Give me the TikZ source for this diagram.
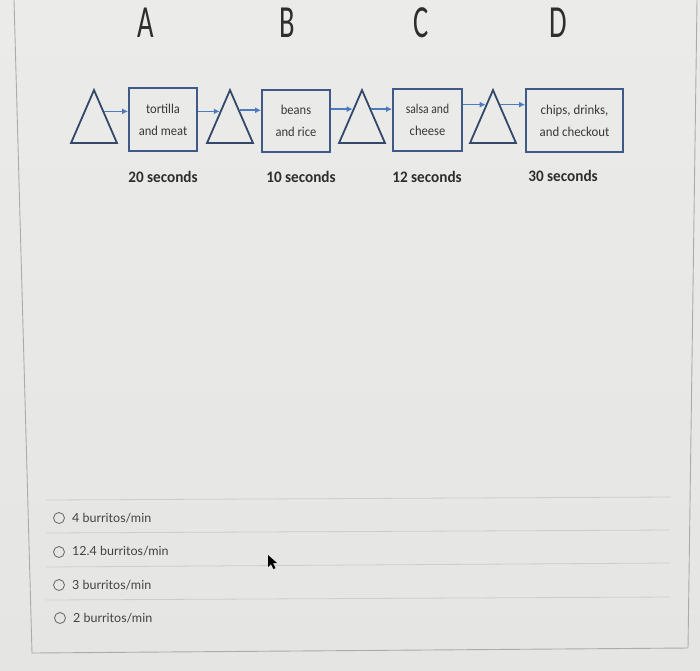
\documentclass[tikz,border=0pt]{standalone}
\usepackage{fontspec}
\setmainfont{Carlito}
\newfontfamily\latofont{Lato}
\usetikzlibrary{shapes.geometric,arrows.meta,calc}
\definecolor{bg}{HTML}{E5E5E3}
\definecolor{bgtop}{HTML}{EBEBE9}
\definecolor{framec}{HTML}{ABABA9}
\definecolor{rulec}{HTML}{CDCDCB}
\definecolor{edgec}{HTML}{34486A}
\definecolor{boxc}{HTML}{3F5A86}
\definecolor{arrc}{HTML}{4C7BC0}
\definecolor{inkc}{HTML}{2E2E2E}
\definecolor{txtc}{HTML}{383838}
\tikzset{
  tri/.style={isosceles triangle, isosceles triangle stretches, shape border rotate=90,
    minimum width=46pt, minimum height=53pt, inner sep=0pt, draw=edgec, line width=1.8pt},
  stepbox/.style={rectangle, draw=boxc, line width=1.8pt, inner sep=0pt, align=center,
    font=\fontsize{13.5}{22}\selectfont, text=txtc},
  arr/.style={draw=arrc, line width=1.6pt, -{Latex[length=6pt,width=6pt]}},
  letter/.style={text=inkc, inner sep=0pt},
  secs/.style={font=\bfseries\fontsize{16}{18}\selectfont, text=inkc, inner sep=0pt},
  opt/.style={font=\latofont\fontsize{12.5}{14}\selectfont, text=inkc!90, anchor=west, inner sep=0pt},
  radio/.style={circle, draw=gray!80!black, line width=0.8pt, minimum size=11pt, inner sep=0pt},
  rulel/.style={draw=rulec, line width=0.8pt},
  framel/.style={draw=framec, line width=0.9pt}
}
\begin{document}
\begin{tikzpicture}[x=1pt,y=-1pt]
\useasboundingbox (0,0) rectangle (700,670);
\shade[top color=bgtop, bottom color=bg] (0,0) rectangle (700,670);
% frame
\draw[framel] (14,0) -- (32,653) -- (688,648) -- (697,0);
% letters
\node[letter] (la) at (146,23) {\scalebox{0.62}[1]{\fontsize{46}{46}\selectfont A}};
\node[letter] (lb) at (287,23) {\scalebox{0.62}[1]{\fontsize{46}{46}\selectfont B}};
\node[letter] (lc) at (421,23) {\scalebox{0.62}[1]{\fontsize{46}{46}\selectfont C}};
\node[letter] (ld) at (558,23) {\scalebox{0.62}[1]{\fontsize{46}{46}\selectfont D}};
% triangles
\node[tri] (t1) at (94,128) {};
\node[tri] (t2) at (230,128) {};
\node[tri] (t3) at (362,128) {};
\node[tri] (t4) at (493,128) {};
% side points where the connectors meet the triangles
\coordinate (t1r) at ($(t1.apex)!0.42!(t1.right corner)$);
\coordinate (t2l) at ($(t2.apex)!0.42!(t2.left corner)$);
\coordinate (t2r) at ($(t2.apex)!0.4!(t2.right corner)$);
\coordinate (t3l) at ($(t3.apex)!0.38!(t3.left corner)$);
\coordinate (t3r) at ($(t3.apex)!0.38!(t3.right corner)$);
\coordinate (t4l) at ($(t4.apex)!0.3!(t4.left corner)$);
\coordinate (t4r) at ($(t4.apex)!0.3!(t4.right corner)$);
% boxes
\node[stepbox, minimum width=68pt, minimum height=63pt] (b1) at (163,119.5) {\scalebox{0.93}[1]{tortilla}\\\scalebox{0.93}[1]{and meat}};
\node[stepbox, minimum width=68pt, minimum height=62pt] (b2) at (296,121) {\scalebox{0.93}[1]{beans}\\\scalebox{0.93}[1]{and rice}};
\node[stepbox, minimum width=69pt, minimum height=62pt] (b3) at (427.5,120) {\scalebox{0.86}[1]{salsa and}\\\scalebox{0.93}[1]{cheese}};
\node[stepbox, minimum width=97pt, minimum height=63pt] (b4) at (574.5,120.5) {\scalebox{0.95}[1]{chips, drinks,}\\\scalebox{0.95}[1]{and checkout}};
% connectors
\draw[arr] (t1r) -- (t1r -| b1.west);
\draw[arr] (b1.east |- t2l) -- (t2l);
\draw[arr] (t2r) -- (t2r -| b2.west);
\draw[arr] (b2.east |- t3l) -- (t3l);
\draw[arr] (t3r) -- (t3r -| b3.west);
\draw[arr] (b3.east |- t4l) -- (t4l);
\draw[arr] (t4r) -- (t4r -| b4.west);
% times
\node[secs] (s1) at (163,177) {\scalebox{0.95}[1]{20 seconds}};
\node[secs] (s2) at (301,177) {\scalebox{0.95}[1]{10 seconds}};
\node[secs] (s3) at (427,177) {\scalebox{0.95}[1]{12 seconds}};
\node[secs] (s4) at (563,176) {\scalebox{0.95}[1]{30 seconds}};
% options
\draw[rulel] (46,500) -- (670,497);
\draw[rulel] (46,533) -- (670,530);
\draw[rulel] (46,567) -- (670,563);
\draw[rulel] (46,600) -- (670,597);
\node[radio] (r1) at (59,518) {};
\node[radio] (r2) at (59,552) {};
\node[radio] (r3) at (59,585) {};
\node[radio] (r4) at (60,618) {};
\node[opt] (o1) at (72,518) {4 burritos/min};
\node[opt] (o2) at (72,551) {12.4 burritos/min};
\node[opt] (o3) at (72,585) {3 burritos/min};
\node[opt] (o4) at (73,618) {2 burritos/min};
% pointer
\fill[black] (268,555) -- (268,567) -- (271,564) -- (273.5,569) -- (275.5,568) -- (273,563) -- (277,563) -- cycle;
\end{tikzpicture}
\end{document}
